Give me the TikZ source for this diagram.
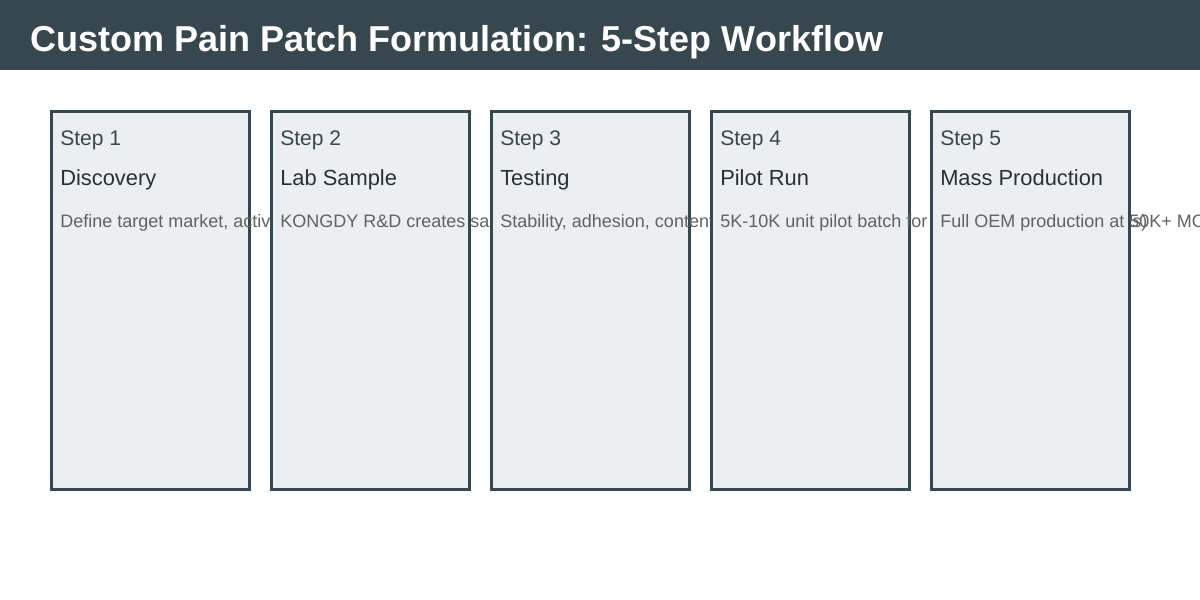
\documentclass[tikz,border=0pt]{standalone}
\usepackage{fontspec}
\setmainfont{Liberation Sans}
\usetikzlibrary{positioning}
\definecolor{slate}{HTML}{37474F}
\definecolor{cardfill}{HTML}{ECEFF1}
\definecolor{inkdark}{HTML}{263238}
\definecolor{inkgray}{HTML}{616161}

\begin{document}
\begin{tikzpicture}[x=0.75pt, y=-0.75pt,
    stepcard/.style={draw=slate, fill=cardfill, line width=2.1pt, minimum width=148.5pt, minimum height=283.5pt, inner sep=0pt, outer sep=0pt, anchor=north west},
    steplabel/.style={anchor=base west, inner sep=0pt, text=slate, font=\fontsize{15.8}{18}\selectfont},
    stepname/.style={anchor=base west, inner sep=0pt, text=inkdark, font=\fontsize{16.4}{20}\selectfont},
    stepdesc/.style={anchor=base west, inner sep=0pt, text=inkgray, font=\fontsize{13.5}{16}\selectfont}]
        \useasboundingbox (0, 0) rectangle (1200, 600);

        % header band
        \fill[slate] (0, 0) rectangle (1200, 70);
        \node[anchor=base west, inner sep=0pt, text=white, font=\bfseries\fontsize{27}{32}\selectfont] (title) at (30, 51) {Custom Pain Patch Formulation: 5-Step Workflow};

        % step cards, each one drawn over the text of the one before
        \foreach \i/\name/\desc in {1/Discovery/{Define target market, actives \& format},
                                    2/Lab Sample/{KONGDY R\&D creates samples},
                                    3/Testing/{Stability, adhesion, content tests},
                                    4/Pilot Run/{5K-10K unit pilot batch for market validation (2-3 wks)},
                                    5/Mass Production/{Full OEM production at 50K+ MOQ}} {
            \node[stepcard] (card\i) at (51.5+220*\i-220, 111.5) {};
            \node[steplabel] (label\i) at (60+220*\i-220, 145) {Step \i};
            \node[stepname] (name\i) at (60+220*\i-220, 185) {\name};
            \node[stepdesc] (desc\i) at (60+220*\i-220, 227) {\desc};
        }
      \end{tikzpicture}
\end{document}
